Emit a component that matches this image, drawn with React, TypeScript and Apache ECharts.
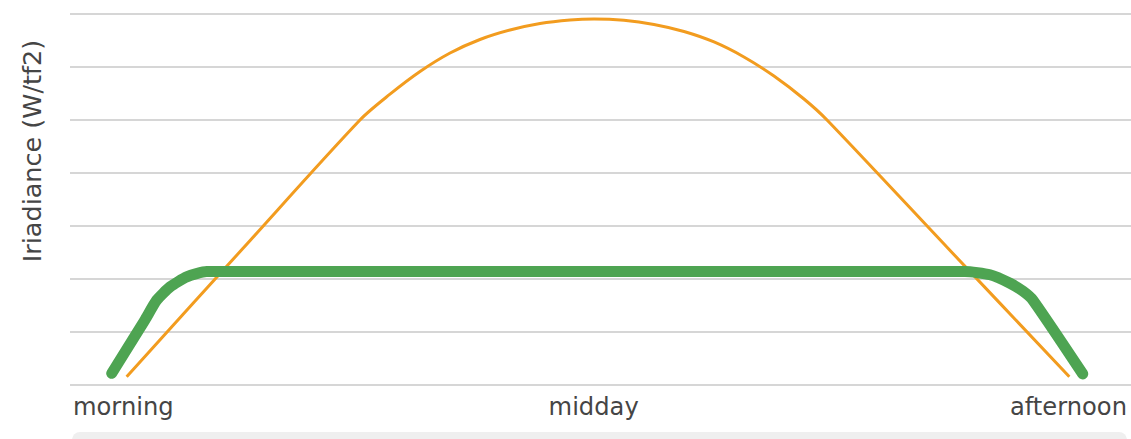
import React, { useEffect, useRef } from "react";
import * as echarts from "echarts";

const xLabels = ["morning", "midday", "afternoon"];
const xLabelPositions = [0, 49.4, 100];

// ideal irradiance (orange)
const idealX = [5.34, 16.31, 27.33, 30.16, 32.99, 35.82, 38.64, 41.47, 44.3, 47.13, 49.39, 52.21, 55.04, 57.87, 60.7, 63.52, 66.35, 69.18, 71.35, 82.75, 94.19];
const idealY = [0.157, 2.58, 5.0, 5.487, 5.915, 6.264, 6.519, 6.698, 6.821, 6.887, 6.906, 6.881, 6.802, 6.67, 6.472, 6.189, 5.83, 5.396, 5.0, 2.58, 0.157];

// clipped output (green)
const clipX = [3.93, 7.07, 8.17, 9.43, 11.0, 12.88, 15.08, 50, 84.35, 86.71, 88.6, 89.82, 90.76, 95.45];
const clipY = [0.22, 1.23, 1.6, 1.85, 2.04, 2.14, 2.14, 2.14, 2.14, 2.08, 1.92, 1.77, 1.6, 0.21];

const yAxisName = "Iriadiance (W/tf2)";

const FONT = "'DejaVu Sans', sans-serif";

export default function App() {
  const ref = useRef<HTMLDivElement>(null);
  useEffect(() => {
    document.body.style.margin = "0";
    if (!ref.current) return;
    const chart = echarts.init(ref.current, null, { renderer: "svg" });
    const labelMap: Record<string, string> = {};
    xLabelPositions.forEach((v, i) => (labelMap[String(v)] = xLabels[i]));
    chart.setOption({
      animation: false,
      grid: { left: 70, right: 0, top: 14, height: 371 },
      xAxis: {
        type: "value",
        min: 0,
        max: 100,
        axisLine: { show: false },
        axisTick: { show: false },
        splitLine: { show: false },
        axisLabel: {
          customValues: xLabelPositions,
          formatter: (v: number) => labelMap[String(v)] ?? "",
          alignMinLabel: "left",
          alignMaxLabel: "right",
          color: "#454545",
          fontFamily: FONT,
          fontSize: 24.2,
          margin: 10,
          padding: [0, 4, 0, 3],
        },
      },
      yAxis: {
        type: "value",
        min: 0,
        max: 7,
        interval: 1,
        axisLine: { show: false },
        axisTick: { show: false },
        axisLabel: { show: false },
        splitLine: { lineStyle: { color: "#c8c8c8", width: 1.5 } },
      },
      graphic: [
        {
          type: "text",
          x: 32,
          y: 151,
          rotation: Math.PI / 2,
          style: {
            text: yAxisName,
            fill: "#454545",
            font: `25.5px ${FONT}`,
            align: "center",
            verticalAlign: "middle",
          },
        },
        {
          type: "rect",
          shape: { x: 72, y: 432, width: 1055, height: 30, r: 8 },
          style: { fill: "#efefef" },
        },
      ],
      series: [
        {
          type: "line",
          data: idealX.map((x, i) => [x, idealY[i]]),
          smooth: 0.3,
          symbol: "none",
          lineStyle: { color: "#f29c1f", width: 3 },
          z: 2,
        },
        {
          type: "line",
          data: clipX.map((x, i) => [x, clipY[i]]),
          smooth: 0.2,
          symbol: "none",
          lineStyle: { color: "#4ea452", width: 11, cap: "round", join: "round" },
          z: 3,
        },
      ],
    });
    return () => chart.dispose();
  }, []);
  return <div ref={ref} style={{ width: 1131, height: 439 }} />;
}
